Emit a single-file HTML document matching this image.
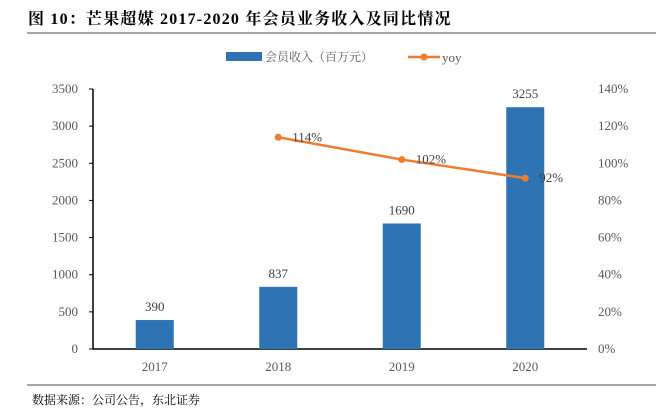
<!DOCTYPE html>
<html><head><meta charset="utf-8"><style>
body{margin:0;background:#fff;}
svg text{font-family:"Liberation Serif","Noto Serif CJK SC",serif;}
</style></head><body>
<svg width="663" height="412" viewBox="0 0 663 412" id="c">
<text x="28" y="24" font-size="16" font-weight="bold" letter-spacing="1.2" fill="#000">图 10：芒果超媒 2017-2020 年会员业务收入及同比情况</text>
<line x1="27" y1="33" x2="656" y2="33" stroke="#888" stroke-width="1.5"/>
<g>
<rect x="226" y="52" width="36" height="9" fill="#2e74b5"/>
<text x="265" y="61" font-size="12" fill="#595959">会员收入（百万元）</text>
<line x1="408" y1="57" x2="440" y2="57" stroke="#ed7d31" stroke-width="2.5"/>
<circle cx="424" cy="57" r="3.5" fill="#ed7d31"/>
<text x="442" y="62" font-size="13" fill="#595959">yoy</text>
</g>
<g id="plot"></g>
<line x1="27" y1="385" x2="656" y2="385" stroke="#888" stroke-width="1.5"/>
<text x="32" y="404" font-size="12" fill="#000">数据来源：公司公告，东北证券</text>
</svg>
<script>
const categories=["2017","2018","2019","2020"];
const revenue=[390,837,1690,3255];
const yoyCats=["2018","2019","2020"];
const yoy=[114,102,92];
const leftTicks=[0,500,1000,1500,2000,2500,3000,3500];
const rightTicks=[0,20,40,60,80,100,120,140];
const X0=93,X1=587,Y0=349,Y1=89;
const band=(X1-X0)/categories.length;
const xc=c=>X0+band*(categories.indexOf(c)+0.5);
const yl=v=>Y0-(v/3500)*(Y0-Y1);
const yr=v=>Y0-(v/140)*(Y0-Y1);
const g=document.getElementById('plot');
const NS="http://www.w3.org/2000/svg";
function mk(t,a){const e=document.createElementNS(NS,t);for(const k in a)e.setAttribute(k,a[k]);g.appendChild(e);return e;}
let e=mk('line',{x1:X0,y1:Y1,x2:X0,y2:Y0,stroke:'#000','stroke-width':1.5});


e=mk('line',{x1:X0,y1:Y0,x2:X1,y2:Y0,stroke:'#000','stroke-width':1.5});


leftTicks.forEach(v=>{
 let t=mk('line',{x1:X0-4,y1:yl(v),x2:X0,y2:yl(v),stroke:'#000'});
 
 
 let l=mk('text',{x:X0-15,y:yl(v)+4,'text-anchor':'end','font-size':13,fill:'#595959'});
 l.textContent=v;
 
 
});
rightTicks.forEach(v=>{
 let l=mk('text',{x:598,y:yr(v)+4,'font-size':13,fill:'#595959'});
 l.textContent=v+'%';
 
 
});
categories.forEach((c,i)=>{
 const bw=38,x=xc(c)-bw/2,y=yl(revenue[i]);
 let b=mk('rect',{x:x,y:y,width:bw,height:Y0-y,fill:'#2e74b5'});
 
 
 let v=mk('text',{x:xc(c),y:y-9,'text-anchor':'middle','font-size':13,fill:'#404040'});
 v.textContent=revenue[i];
 
 
 let l=mk('text',{x:xc(c),y:Y0+22,'text-anchor':'middle','font-size':13,fill:'#595959'});
 l.textContent=c;
 
 
});
const pts=yoyCats.map((c,i)=>xc(c)+','+yr(yoy[i])).join(' ');
let pl=mk('polyline',{points:pts,fill:'none',stroke:'#ed7d31','stroke-width':2.5});


yoyCats.forEach((c,i)=>{
 let p=mk('circle',{cx:xc(c),cy:yr(yoy[i]),r:3.5,fill:'#ed7d31'});
 
 
 let l=mk('text',{x:xc(c)+14,y:yr(yoy[i])+4,'font-size':13,fill:'#404040'});
 l.textContent=yoy[i]+'%';
 
 
});
</script>
</body></html>
